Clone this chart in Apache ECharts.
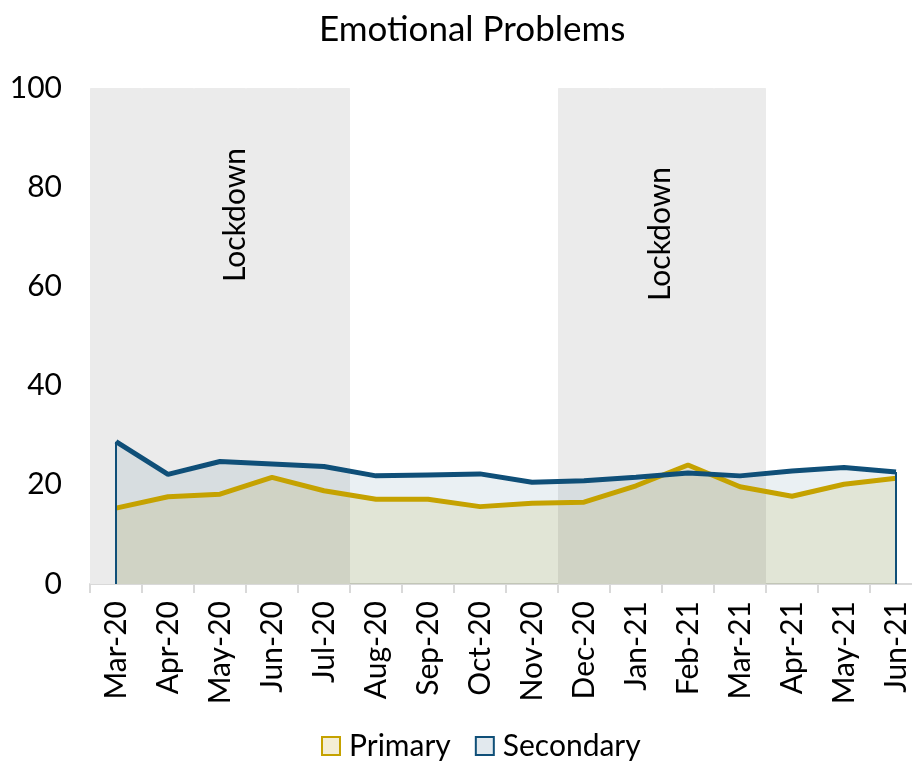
<!DOCTYPE html>
<html>
<head>
<meta charset="utf-8">
<script src="https://cdn.jsdelivr.net/npm/echarts@6/dist/echarts.min.js"></script>
<style>
  html, body { margin: 0; padding: 0; background: #fff; }
  #chart { width: 912px; height: 763px; }
</style>
</head>
<body>
<div id="chart"></div>
<script>
  // 数据
  const months = ['Mar-20', 'Apr-20', 'May-20', 'Jun-20', 'Jul-20', 'Aug-20', 'Sep-20', 'Oct-20',
                  'Nov-20', 'Dec-20', 'Jan-21', 'Feb-21', 'Mar-21', 'Apr-21', 'May-21', 'Jun-21'];
  const primary = [15.3, 17.6, 18.1, 21.5, 18.8, 17.1, 17.1, 15.6, 16.3, 16.5, 19.8, 24.0, 19.6, 17.7, 20.1, 21.3];
  const secondary = [28.7, 22.1, 24.7, 24.2, 23.7, 21.8, 22.0, 22.2, 20.5, 20.8, 21.5, 22.4, 21.8, 22.8, 23.5, 22.6];
  const lockdown = [1, 1, 1, 1, 1, 0, 0, 0, 0, 1, 1, 1, 1, 0, 0, 0];
  const yTicks = [0, 20, 40, 60, 80, 100];

  const FONT = 'Lato';
  const GOLD = '#c5a200';
  const BLUE = '#0f4f78';
  const BAND = '#ebebeb';

  const chart = echarts.init(document.getElementById('chart'));
  const last = months.length - 1;

  const option = {
    animation: false,
    textStyle: { fontFamily: FONT, color: '#000' },
    title: {
      text: 'Emotional Problems',
      left: 314,
      top: 7,
      textStyle: { fontFamily: FONT, fontSize: 35, fontWeight: 'normal', color: '#000' }
    },
    legend: {
      top: 726,
      left: 316,
      itemWidth: 18,
      itemHeight: 18,
      itemGap: 24,
      textStyle: { fontFamily: FONT, fontSize: 30, color: '#000', padding: [0, 0, 0, 4] },
      data: [
        { name: 'Primary', icon: 'rect', itemStyle: { color: '#f4eed6', borderColor: GOLD, borderWidth: 2 } },
        { name: 'Secondary', icon: 'rect', itemStyle: { color: '#e2e9ee', borderColor: BLUE, borderWidth: 2 } }
      ]
    },
    grid: { left: 90, top: 88, width: 832, height: 496, containLabel: false, outerBoundsMode: 'none' },
    xAxis: {
      type: 'category',
      data: months,
      boundaryGap: true,
      axisLine: { lineStyle: { color: '#d9d9d9', width: 2 } },
      axisTick: { show: true, interval: 0, length: 9, lineStyle: { color: '#d9d9d9', width: 2 } },
      axisLabel: { rotate: 90, interval: 0, fontSize: 30, margin: 17, color: '#000', fontFamily: FONT }
    },
    yAxis: {
      type: 'value',
      min: yTicks[0],
      max: yTicks[yTicks.length - 1],
      interval: 20,
      axisLine: { show: false },
      axisTick: { show: false },
      splitLine: { show: false },
      axisLabel: { fontSize: 30, margin: 28, color: '#000', fontFamily: FONT }
    },
    series: [
      {
        name: 'lockdown',
        type: 'bar',
        data: lockdown.map(v => v ? 100 : '-'),
        barWidth: '100%',
        itemStyle: { color: BAND, borderColor: BAND, borderWidth: 1 },
        silent: true,
        z: 0
      },
      {
        name: 'Primary',
        type: 'line',
        data: primary,
        symbol: 'none',
        lineStyle: { color: GOLD, width: 5 },
        itemStyle: { color: GOLD },
        areaStyle: { color: 'rgba(185,165,30,0.2)' },
        z: 2
      },
      {
        name: 'Secondary',
        type: 'line',
        data: secondary,
        symbol: 'none',
        lineStyle: { color: BLUE, width: 5 },
        itemStyle: { color: BLUE },
        areaStyle: { color: 'rgba(15,79,120,0.12)' },
        markLine: {
          silent: true,
          symbol: 'none',
          label: { show: false },
          lineStyle: { color: BLUE, width: 2, type: 'solid' },
          data: [
            [{ coord: [months[0], 0] }, { coord: [months[0], secondary[0]] }],
            [{ coord: [months[last], 0] }, { coord: [months[last], secondary[last]] }]
          ]
        },
        z: 2
      }
    ],
    graphic: [
      {
        type: 'text', x: 235, y: 215, rotation: Math.PI / 2, z: 100,
        style: { text: 'Lockdown', font: '30px ' + FONT, fill: '#000', align: 'center', verticalAlign: 'middle' }
      },
      {
        type: 'text', x: 660, y: 234, rotation: Math.PI / 2, z: 100,
        style: { text: 'Lockdown', font: '30px ' + FONT, fill: '#000', align: 'center', verticalAlign: 'middle' }
      }
    ]
  };

  chart.setOption(option);
</script>
</body>
</html>
